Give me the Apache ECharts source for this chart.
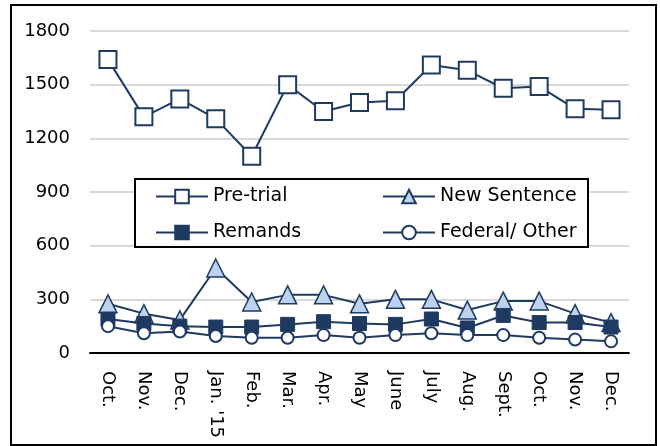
<!DOCTYPE html>
<html>
<head>
<meta charset="utf-8">
<script src="https://cdn.jsdelivr.net/npm/echarts@6/dist/echarts.min.js"></script>
<style>
  html, body { margin: 0; padding: 0; background: #fff; }
  #chart { width: 660px; height: 446px; }
</style>
</head>
<body>
<div id="chart"></div>
<script>
const months = ['Oct.', 'Nov.', 'Dec.', "Jan. '15", 'Feb.', 'Mar.', 'Apr.', 'May', 'June', 'July', 'Aug.', 'Sept.', 'Oct.', 'Nov.', 'Dec.']
const preTrial = [1640, 1320, 1420, 1310, 1100, 1500, 1350, 1400, 1410, 1610, 1580, 1480, 1490, 1365, 1360]
const newSentence = [275, 220, 185, 475, 285, 325, 325, 275, 300, 300, 240, 290, 290, 220, 170]
const remands = [190, 165, 150, 145, 145, 160, 175, 165, 160, 190, 140, 210, 170, 170, 145]
const federalOther = [150, 110, 120, 95, 85, 85, 100, 85, 100, 110, 100, 100, 85, 75, 65]
const yTicks = { min: 0, max: 1800, interval: 300 }

const navy = '#1f3a60'
const font = 'DejaVu Sans'

const chart = echarts.init(document.getElementById('chart'))

function lineSeries(name, data, symbol, size, fill, borderWidth) {
  return {
    name,
    type: 'line',
    data,
    symbol,
    symbolSize: size,
    showAllSymbol: true,
    lineStyle: { color: navy, width: 2 },
    itemStyle: { color: fill, borderColor: navy, borderWidth },
    emphasis: { disabled: true },
  }
}

chart.setOption({
  animation: false,
  grid: { left: 90, right: 31, top: 31, bottom: 93 },
  xAxis: {
    type: 'category',
    data: months,
    boundaryGap: true,
    axisLine: { lineStyle: { color: '#000', width: 2 } },
    axisTick: { show: false },
    axisLabel: { rotate: -90, margin: 18, fontSize: 18, fontFamily: font, color: '#000', interval: 0 },
  },
  yAxis: {
    type: 'value',
    min: yTicks.min,
    max: yTicks.max,
    interval: yTicks.interval,
    axisLine: { show: false },
    axisTick: { show: false },
    axisLabel: { margin: 20, fontSize: 18, fontFamily: font, color: '#000', formatter: (v) => String(v) },
    splitLine: { lineStyle: { color: '#d9d9d9', width: 2 } },
  },
  graphic: [
    {
      type: 'rect',
      z: 0,
      shape: { x: 11, y: 5, width: 645, height: 440 },
      style: { fill: 'none', stroke: '#000', lineWidth: 2 },
    },
    {
      type: 'rect',
      z: 50,
      shape: { x: 135, y: 179, width: 453, height: 68 },
      style: { fill: '#fff', stroke: '#000', lineWidth: 2 },
    },
  ],
  legend: [
    {
      data: ['Pre-trial', 'Remands'],
      orient: 'vertical',
      left: 150,
      top: 182,
      z: 60,
      itemWidth: 52,
      itemHeight: 17,
      itemGap: 17,
      textStyle: { fontSize: 19, fontFamily: font, color: '#000' },
    },
    {
      data: ['New Sentence', 'Federal/ Other'],
      orient: 'vertical',
      left: 377,
      top: 182,
      z: 60,
      itemWidth: 52,
      itemHeight: 17,
      itemGap: 17,
      textStyle: { fontSize: 19, fontFamily: font, color: '#000' },
    },
  ],
  series: [
    lineSeries('Pre-trial', preTrial, 'rect', 17, '#fff', 2),
    lineSeries('New Sentence', newSentence, 'triangle', 18, '#bdd2ee', 1.5),
    lineSeries('Remands', remands, 'rect', 14, navy, 1),
    lineSeries('Federal/ Other', federalOther, 'circle', 12, '#fff', 2),
  ],
})
</script>
</body>
</html>
